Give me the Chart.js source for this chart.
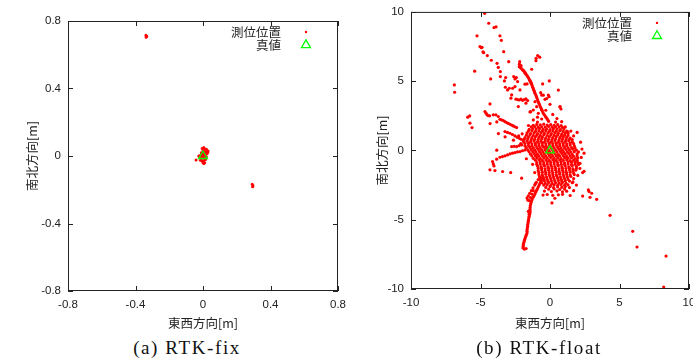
<!DOCTYPE html>
<html>
<head>
<meta charset="utf-8">
<script src="https://cdn.jsdelivr.net/npm/chart.js@4"></script>
<style>
  body { margin: 0; background: #fff; width: 693px; height: 360px; position: relative; overflow: hidden; }
  .box { position: absolute; }
  #fixBox { left: 0; top: 0; width: 353px; height: 335px; }
  #floatBox { left: 346px; top: -2px; width: 360px; height: 337px; }
  .cap { position: absolute; top: 337px; width: 220px; text-align: center; font-family: "Liberation Serif", serif;
         font-size: 19px; line-height: 22px; letter-spacing: 1.6px; color: #111; }
</style>
</head>
<body>
<div class="box" id="fixBox"><canvas id="fixChart"></canvas></div>
<div class="box" id="floatBox"><canvas id="floatChart"></canvas></div>
<div class="cap" style="left:77px">(a) RTK-fix</div>
<div class="cap" style="left:429px">(b) RTK-float</div>
<script>
// tick values
const fixTicks = [-0.8, -0.4, 0, 0.4, 0.8];
const floatTicks = [-10, -5, 0, 5, 10];

const xTitle = '東西方向[m]';
const yTitle = '南北方向[m]';
const seriesLabels = ['測位位置', '真値'];

// true position
const truePosition = [[0, 0]];

// RTK-fix results [east, north] (m)
const fixPositions = [
  [-0.338,0.716],[-0.334,0.709],[-0.337,0.703],
  [0.292,-0.168],[0.296,-0.176],[0.294,-0.182],
  [-0.041,-0.024],
  [-0.005,0.045],[0.005,0.05],[0.01,0.04],[0.02,0.04],[0.03,0.03],[0.02,0.025],[0.01,0.025],[0.0,0.03],
  [-0.01,0.02],[0.0,0.015],[0.015,0.012],[0.025,0.015],[-0.015,0.005],[-0.005,0.0],[0.005,0.005],[0.015,0.0],
  [-0.02,-0.01],[-0.01,-0.015],[0.0,-0.01],[0.01,-0.015],[0.015,-0.02],[-0.015,-0.025],[-0.005,-0.03],
  [0.005,-0.028],[0.0,-0.04],[0.01,-0.04],[0.005,-0.045],[-0.025,0.0],[0.02,-0.005],[0.028,0.022]
];

// RTK-float results [east, north] (m)
const floatPositions = [
  // upper left scatter
  [-4.70,9.90],[-4.41,9.18],[-4.03,8.87],[-3.88,8.92],[-5.25,8.27],[-3.60,8.27],[-3.50,7.95],[-5.04,7.50],
  [-4.94,7.42],[-4.89,7.45],[-4.82,7.11],[-4.77,7.06],[-4.51,6.85],[-4.22,6.51],[-3.81,6.29],[-3.72,6.00],
  [-3.33,7.13],[-2.97,6.41],[-5.42,5.72],[-4.27,5.16],[-3.57,5.69],[-3.57,5.33],[-3.19,5.26],[-3.28,5.02],
  [-2.61,5.33],[-2.52,5.16],[-2.42,5.26],[-2.33,4.97],[-3.21,4.56],[-3.05,4.37],[-2.93,4.49],[-2.69,4.49],
  [-2.52,4.61],[-1.80,4.78],[-1.65,4.80],[-2.76,4.01],[-2.81,3.77],[-2.16,4.37],[-2.45,3.70],[-2.33,3.67],
  [-2.21,3.64],[-2.09,3.70],[-1.97,3.62],[-1.85,3.67],[-1.73,3.72],[-1.61,3.60],[-2.28,3.17],[-1.73,3.41],
  [-4.32,3.36],[-6.88,4.73],[-6.86,4.20],[-1.01,6.48],[-0.89,6.85],[-0.74,6.73],[-1.00,6.65],[-1.32,5.86],
  [-0.53,4.80],[-0.67,4.17],[-0.60,4.00],[-0.12,4.00],[-0.07,3.88],[-0.36,3.69],[0.00,3.33],[0.60,4.36],
  [0.72,3.16],[0.79,2.99],[-1.08,3.52],[-0.96,3.16],[-1.20,2.92],[-1.39,2.80],[-0.84,2.68],[-0.60,2.27],
  [-0.05,5.02],[-0.24,3.75],[-0.48,3.99],[0.72,3.14],[0.84,2.08],[1.29,1.34],[-1.44,2.78],[-0.60,2.93],
  [-0.30,2.90],[0.20,2.60],[-0.90,2.40],[-1.20,2.20],[0.50,2.30],
  // arc
  [-2.18,6.41],[-2.21,6.05],[-2.05,5.90],[-1.85,5.69],[-1.72,5.50],[-1.61,5.33],[-1.50,5.15],[-1.41,4.97],
  [-1.32,4.78],[-1.25,4.56],[-1.16,4.35],[-1.08,4.13],[-0.98,3.90],[-0.89,3.65],[-0.80,3.40],[-0.70,3.17],
  [-0.60,2.95],[-0.50,2.72],[-0.36,2.50],[-0.22,2.30],[-0.10,2.10],
  [-2.08,6.12],[-1.95,5.78],[-1.79,5.58],[-1.66,5.42],[-1.55,5.24],[-1.45,5.06],[-1.36,4.88],
  [-2.20,6.23],[-2.12,5.97],[-1.93,5.80],[-1.78,5.60],[-1.46,5.06],[-1.37,4.88],[-1.28,4.67],[-1.20,4.46],
  [-1.12,4.24],[-1.03,4.02],[-0.94,3.78],[-0.85,3.53],[-0.75,3.29],[-0.65,3.06],[-0.55,2.84],[-0.43,2.61],
  [-0.29,2.40],[-0.16,2.20],
  // left cluster and trails
  [-4.68,2.81],[-4.60,2.69],[-4.53,2.57],[-4.44,2.52],[-4.34,2.50],[-5.92,2.40],[-5.78,2.49],[-5.76,1.97],
  [-5.61,1.65],[-4.08,2.57],[-3.89,2.57],[-3.72,2.45],
  [-3.60,2.25],[-3.48,2.20],[-3.36,2.16],[-3.24,2.08],[-3.12,2.01],[-3.00,1.95],[-2.88,1.89],[-2.76,1.83],
  [-2.64,1.77],[-2.52,1.71],[-2.40,1.65],
  [-3.24,1.36],[-3.06,1.30],[-2.88,1.24],[-2.70,1.15],[-2.52,1.05],[-2.36,0.96],[-2.21,0.88],[-2.08,0.81],[-1.95,0.75],
  [-4.31,1.94],[-3.83,2.06],[-3.71,1.22],[-3.23,0.98],[-2.63,0.74],
  [-1.80,0.04],[-1.98,-0.02],[-2.16,-0.08],[-2.34,-0.11],[-2.52,-0.15],[-2.70,-0.20],[-2.88,-0.25],
  [-3.06,-0.32],[-3.24,-0.39],[-3.42,-0.44],[-3.60,-0.49],[-3.84,-0.63],[-2.40,0.28],[-2.58,0.30],
  [-2.76,0.28],[-2.04,0.40],[-2.22,0.35],[-3.83,0.02],
  [-4.13,-0.80],[-4.08,-0.97],[-4.03,-1.12],[-4.32,-1.40],[-3.96,-1.45],[-3.41,-1.52],[-2.83,-1.60],[-2.04,-2.00],
  // lower loop and tail
  [-0.72,-1.91],[-0.85,-2.10],[-0.98,-2.30],[-1.10,-2.50],[-1.22,-2.70],[-1.34,-2.90],[-1.46,-3.10],
  [-1.56,-3.28],[-1.65,-3.43],[-1.60,-3.58],[-1.50,-3.62],[-1.40,-3.40],[-1.30,-3.15],[-1.20,-2.90],
  [-0.55,-2.00],[-0.66,-2.25],[-0.78,-2.50],[-0.90,-2.75],[-1.02,-3.00],[-1.14,-3.25],[-1.28,-3.50],
  [-1.36,-3.75],[-1.42,-4.00],[-1.44,-4.25],[-1.44,-4.51],[-1.50,-4.75],[-1.55,-5.00],[-1.58,-5.23],
  [-1.61,-5.47],[-1.65,-5.71],[-1.65,-5.96],[-1.75,-6.20],[-1.82,-6.42],[-1.87,-6.61],[-1.92,-6.82],
  [-1.94,-7.04],[-1.85,-7.12],[-1.72,-7.08],[-1.56,-4.40],[-1.50,-4.60],
  [-0.60,-2.12],[-0.72,-2.37],[-0.84,-2.62],[-0.96,-2.87],[-1.08,-3.12],[-1.21,-3.37],[-1.32,-3.62],
  [-1.39,-3.87],[-1.43,-4.12],[-1.44,-4.38],[-1.47,-4.63],[-1.52,-4.87],[-1.56,-5.11],[-1.60,-5.35],
  [-1.63,-5.59],[-1.65,-5.84],[-1.70,-6.08],[-1.78,-6.31],[-1.85,-6.52],[-1.90,-6.72],[-1.93,-6.93],
  // lower right scatter
  [2.35,-1.60],[2.45,-1.51],[2.76,-2.85],[2.81,-2.97],[2.35,-3.29],[3.00,-3.09],[2.88,-3.38],[3.36,-3.53],
  [4.32,-4.68],[5.95,-5.84],[6.26,-6.97],[8.35,-7.62],[8.18,-9.86],[0.14,-3.79],[2.16,-0.94],[1.65,-2.27],
  // ragged edge of the core
  [2.20,0.60],[2.30,0.10],[2.25,-0.50],[2.15,-1.30],[2.00,-1.80],[1.90,-2.50],[1.70,-2.90],[1.50,1.40],
  [1.70,1.05],[-2.00,1.20],[-2.10,0.50],[-1.70,-0.60],[-1.25,-1.00],[-1.10,-1.60],[-1.55,1.80],[-0.90,2.05],
  [0.40,2.05],[1.10,1.70],[2.45,-0.20],[1.95,1.30],[-1.05,-2.40],[0.35,-3.45],[1.45,-3.25],[-2.25,1.05],
  // dense core
  [-1.20,1.82],[-0.95,1.88],[-0.70,1.84],[-0.45,1.90],[-0.20,1.83],[0.05,1.87],[0.30,1.82],[0.55,1.86],[0.80,1.80],
  [-1.35,1.70],[-1.10,1.72],[-0.85,1.68],[-0.60,1.71],[-0.35,1.69],[-0.10,1.73],[0.15,1.68],[0.40,1.71],[0.65,1.69],[0.90,1.66],
  [-1.50,1.52],[-1.25,1.57],[-1.00,1.54],[-0.75,1.58],[-0.50,1.53],[-0.25,1.56],[0.00,1.51],[0.25,1.57],
  [0.50,1.54],[0.75,1.50],[1.00,1.55],
  [-1.55,1.40],[-1.30,1.42],[-1.05,1.38],[-0.80,1.41],[-0.55,1.39],[-0.30,1.43],[-0.05,1.38],[0.20,1.41],
  [0.45,1.39],[0.70,1.42],[0.95,1.37],[1.20,1.40],
  [-1.65,1.27],[-1.40,1.22],[-1.15,1.26],[-0.90,1.21],[-0.65,1.28],[-0.40,1.23],[-0.15,1.26],[0.10,1.22],
  [0.35,1.27],[0.60,1.24],[0.85,1.20],[1.10,1.26],[1.30,1.23],
  [-1.70,1.10],[-1.45,1.12],[-1.20,1.08],[-0.95,1.11],[-0.70,1.09],[-0.45,1.13],[-0.20,1.08],[0.05,1.11],
  [0.30,1.09],[0.55,1.12],[0.80,1.07],[1.05,1.10],[1.30,1.08],
  [-1.80,0.93],[-1.55,0.97],[-1.30,0.92],[-1.05,0.98],[-0.80,0.94],[-0.55,0.96],[-0.30,0.91],[-0.05,0.97],
  [0.20,0.93],[0.45,0.98],[0.70,0.92],[0.95,0.96],[1.20,0.94],[1.45,0.90],
  [-1.85,0.80],[-1.60,0.82],[-1.35,0.78],[-1.10,0.81],[-0.85,0.79],[-0.60,0.83],[-0.35,0.78],[-0.10,0.81],
  [0.15,0.79],[0.40,0.82],[0.65,0.77],[0.90,0.80],[1.15,0.78],[1.40,0.81],[1.60,0.79],
  [-1.90,0.62],[-1.65,0.67],[-1.40,0.63],[-1.15,0.68],[-0.90,0.64],[-0.65,0.66],[-0.40,0.61],[-0.15,0.67],
  [0.10,0.63],[0.35,0.68],[0.60,0.62],[0.85,0.66],[1.10,0.64],[1.35,0.69],[1.60,0.63],
  [-1.80,0.50],[-1.55,0.52],[-1.30,0.48],[-1.05,0.51],[-0.80,0.49],[-0.55,0.53],[-0.30,0.48],[-0.05,0.51],
  [0.20,0.49],[0.45,0.52],[0.70,0.47],[0.95,0.50],[1.20,0.48],[1.45,0.51],[1.70,0.49],
  [-1.80,0.33],[-1.55,0.37],[-1.30,0.32],[-1.05,0.38],[-0.80,0.34],[-0.55,0.36],[-0.30,0.31],[-0.05,0.37],
  [0.20,0.33],[0.45,0.38],[0.70,0.32],[0.95,0.36],[1.20,0.34],[1.45,0.39],[1.75,0.33],
  [-1.70,0.20],[-1.45,0.22],[-1.20,0.18],[-0.95,0.21],[-0.70,0.19],[-0.45,0.23],[-0.20,0.18],[0.05,0.21],
  [0.30,0.19],[0.55,0.22],[0.80,0.17],[1.05,0.20],[1.30,0.18],[1.55,0.21],[1.80,0.19],
  [-1.60,0.03],[-1.35,0.07],[-1.10,0.02],[-0.85,0.08],[-0.60,0.04],[-0.35,0.06],[-0.10,0.01],[0.15,0.07],
  [0.40,0.03],[0.65,0.08],[0.90,0.02],[1.15,0.06],[1.40,0.04],[1.65,0.09],[1.90,0.03],
  [-1.50,-0.10],[-1.25,-0.08],[-1.00,-0.12],[-0.75,-0.09],[-0.50,-0.11],[-0.25,-0.07],[0.00,-0.12],[0.25,-0.09],
  [0.50,-0.11],[0.75,-0.08],[1.00,-0.13],[1.25,-0.10],[1.50,-0.12],[1.75,-0.09],[2.05,-0.11],
  [-1.40,-0.27],[-1.15,-0.22],[-0.90,-0.28],[-0.65,-0.23],[-0.40,-0.26],[-0.15,-0.21],[0.10,-0.27],[0.35,-0.24],
  [0.60,-0.29],[0.85,-0.22],[1.10,-0.26],[1.35,-0.23],[1.60,-0.28],[1.95,-0.24],
  [-1.30,-0.40],[-1.05,-0.38],[-0.80,-0.42],[-0.55,-0.39],[-0.30,-0.41],[-0.05,-0.37],[0.20,-0.42],[0.45,-0.39],
  [0.70,-0.41],[0.95,-0.38],[1.20,-0.43],[1.45,-0.40],[1.70,-0.42],[1.95,-0.39],
  [-1.20,-0.57],[-0.95,-0.52],[-0.70,-0.58],[-0.45,-0.53],[-0.20,-0.56],[0.05,-0.51],[0.30,-0.57],[0.55,-0.54],
  [0.80,-0.59],[1.05,-0.52],[1.30,-0.56],[1.55,-0.53],[1.80,-0.58],[2.00,-0.54],
  [-1.05,-0.70],[-0.80,-0.68],[-0.55,-0.72],[-0.30,-0.69],[-0.05,-0.71],[0.20,-0.67],[0.45,-0.72],[0.70,-0.69],
  [0.95,-0.71],[1.20,-0.68],[1.45,-0.73],[1.70,-0.70],[1.95,-0.72],
  [-0.95,-0.87],[-0.70,-0.82],[-0.45,-0.88],[-0.20,-0.83],[0.05,-0.86],[0.30,-0.81],[0.55,-0.87],[0.80,-0.84],
  [1.05,-0.89],[1.30,-0.82],[1.55,-0.86],[1.80,-0.83],[2.00,-0.88],
  [-0.95,-1.00],[-0.70,-0.98],[-0.45,-1.02],[-0.20,-0.99],[0.05,-1.01],[0.30,-0.97],[0.55,-1.02],[0.80,-0.99],
  [1.05,-1.01],[1.30,-0.98],[1.55,-1.03],[1.80,-1.00],[2.05,-1.02],
  [-0.90,-1.13],[-0.65,-1.17],[-0.40,-1.12],[-0.15,-1.18],[0.10,-1.14],[0.35,-1.16],[0.60,-1.11],[0.85,-1.17],
  [1.10,-1.13],[1.35,-1.18],[1.60,-1.12],[1.90,-1.16],
  [-0.85,-1.30],[-0.60,-1.28],[-0.35,-1.32],[-0.10,-1.29],[0.15,-1.31],[0.40,-1.27],[0.65,-1.32],[0.90,-1.29],
  [1.15,-1.31],[1.40,-1.28],[1.65,-1.33],[1.90,-1.30],
  [-0.85,-1.47],[-0.60,-1.42],[-0.35,-1.48],[-0.10,-1.43],[0.15,-1.46],[0.40,-1.41],[0.65,-1.47],[0.90,-1.44],
  [1.15,-1.49],[1.40,-1.42],[1.65,-1.46],[1.85,-1.43],
  [-0.80,-1.60],[-0.55,-1.58],[-0.30,-1.62],[-0.05,-1.59],[0.20,-1.61],[0.45,-1.57],[0.70,-1.62],[0.95,-1.59],
  [1.20,-1.61],[1.45,-1.58],[1.70,-1.63],
  [-0.80,-1.73],[-0.55,-1.77],[-0.30,-1.72],[-0.05,-1.78],[0.20,-1.74],[0.45,-1.76],[0.70,-1.71],[0.95,-1.77],
  [1.20,-1.73],[1.45,-1.78],[1.75,-1.74],
  [-0.75,-1.90],[-0.50,-1.88],[-0.25,-1.92],[0.00,-1.89],[0.25,-1.91],[0.50,-1.87],[0.75,-1.92],[1.00,-1.89],
  [1.25,-1.91],[1.50,-1.88],
  [-0.70,-2.07],[-0.45,-2.02],[-0.20,-2.08],[0.05,-2.03],[0.30,-2.06],[0.55,-2.01],[0.80,-2.07],[1.05,-2.04],
  [1.30,-2.09],[1.70,-2.03],
  [-0.65,-2.20],[-0.40,-2.18],[-0.15,-2.22],[0.10,-2.19],[0.35,-2.21],[0.60,-2.17],[0.85,-2.22],[1.10,-2.19],[1.40,-2.21],
  [-0.60,-2.33],[-0.35,-2.37],[-0.10,-2.32],[0.15,-2.38],[0.40,-2.34],[0.65,-2.36],[0.90,-2.31],[1.15,-2.37],[1.60,-2.33],
  [-0.45,-2.50],[-0.20,-2.48],[0.05,-2.52],[0.30,-2.49],[0.55,-2.51],[0.80,-2.47],[1.05,-2.52],[1.30,-2.49],
  [-0.30,-2.67],[0.00,-2.62],[0.25,-2.68],[0.55,-2.63],[0.85,-2.66],[1.10,-2.61],[1.40,-2.68],
  [-0.10,-2.80],[0.30,-2.78],[0.70,-2.82],[1.05,-2.79],
  [-0.40,-2.93],[0.10,-2.97],[0.50,-2.92],[0.90,-2.98],[1.20,-2.94],
  [-0.50,-3.22],[-0.20,-3.18],[0.20,-3.24],[0.60,-3.20],[0.90,-3.17]
];

const toXY = arr => arr.map(p => ({x: p[0], y: p[1]}));

// frame with inward ticks on all four sides + gnuplot-like legend
const framePlugin = {
  id: 'frame',
  afterDraw(chart) {
    const {ctx, chartArea: a, scales} = chart;
    ctx.save();
    ctx.strokeStyle = '#222';
    ctx.lineWidth = 1;
    ctx.strokeRect(a.left + 0.5, a.top + 0.5, a.right - a.left - 1, a.bottom - a.top - 1);
    ctx.beginPath();
    scales.x.ticks.forEach(t => {
      const px = Math.round(scales.x.getPixelForValue(t.value)) + 0.5;
      ctx.moveTo(px, a.bottom); ctx.lineTo(px, a.bottom - 5);
      ctx.moveTo(px, a.top); ctx.lineTo(px, a.top + 5);
    });
    scales.y.ticks.forEach(t => {
      const py = Math.round(scales.y.getPixelForValue(t.value)) + 0.5;
      ctx.moveTo(a.left, py); ctx.lineTo(a.left + 5, py);
      ctx.moveTo(a.right, py); ctx.lineTo(a.right - 5, py);
    });
    ctx.stroke();

    // legend
    ctx.font = '12.5px "Noto Sans CJK JP"';
    ctx.textAlign = 'right';
    ctx.textBaseline = 'middle';
    chart.data.datasets.forEach((ds, i) => {
      const y = a.top + 11 + i * 13;
      ctx.fillStyle = '#222';
      ctx.fillText(ds.label, a.right - 57, y);
      ctx.fillStyle = ds.backgroundColor;
      ctx.strokeStyle = ds.borderColor;
      ctx.lineWidth = ds.borderWidth;
      Chart.helpers.drawPoint(ctx, {
        pointStyle: ds.pointStyle, rotation: 0, borderWidth: ds.borderWidth,
        radius: ds.legendRadius
      }, a.right - 32, y);
    });
    ctx.restore();
  }
};

function makeAxis(tickList, title, isY, size, titlePad) {
  return {
    type: 'linear',
    min: tickList[0],
    max: tickList[tickList.length - 1],
    afterBuildTicks: s => { s.ticks = tickList.map(v => ({value: v})); },
    afterFit: s => { if (isY) s.width = size; else s.height = size; },
    grid: { display: false, drawTicks: false },
    border: { display: false },
    ticks: {
      color: '#222', autoSkip: false, maxRotation: 0, padding: 7,
      font: { family: 'Liberation Sans', size: 11.5 },
      callback: v => String(v)
    },
    title: {
      display: true, text: title, color: '#222',
      font: { family: 'Noto Sans CJK JP', size: 12.5 },
      padding: isY ? { top: titlePad, bottom: 0 } : { top: 0, bottom: titlePad }
    }
  };
}

function makeChart(id, points, tickList, radius, yWidth, xHeight, yTitlePad, padding) {
  return new Chart(document.getElementById(id), {
    type: 'scatter',
    data: {
      datasets: [{
        label: seriesLabels[0],
        data: toXY(points),
        backgroundColor: '#ff0000',
        borderColor: '#ff0000',
        borderWidth: 0,
        pointStyle: 'circle',
        pointRadius: radius,
        legendRadius: 1.2,
        order: 1
      }, {
        label: seriesLabels[1],
        data: toXY(truePosition),
        backgroundColor: 'rgba(0,0,0,0)',
        borderColor: '#00ff00',
        borderWidth: 1.3,
        pointStyle: 'triangle',
        pointRadius: 5,
        legendRadius: 5.2,
        order: 0
      }]
    },
    options: {
      responsive: true,
      maintainAspectRatio: false,
      animation: false,
      layout: { padding: padding },
      scales: {
        x: makeAxis(tickList, xTitle, false, xHeight, 4.5),
        y: makeAxis(tickList, yTitle, true, yWidth, yTitlePad)
      },
      plugins: { legend: { display: false }, tooltip: { enabled: false } }
    },
    plugins: [framePlugin]
  });
}

const fixChart = makeChart('fixChart', fixPositions, fixTicks, 1.5, 68, 44, 24.5,
  { left: 0, right: 0, top: 21, bottom: 0 });
const floatChart = makeChart('floatChart', floatPositions, floatTicks, 1.6, 65, 46, 28.5,
  { left: 0, right: 17, top: 12, bottom: 0 });
</script>
</body>
</html>
